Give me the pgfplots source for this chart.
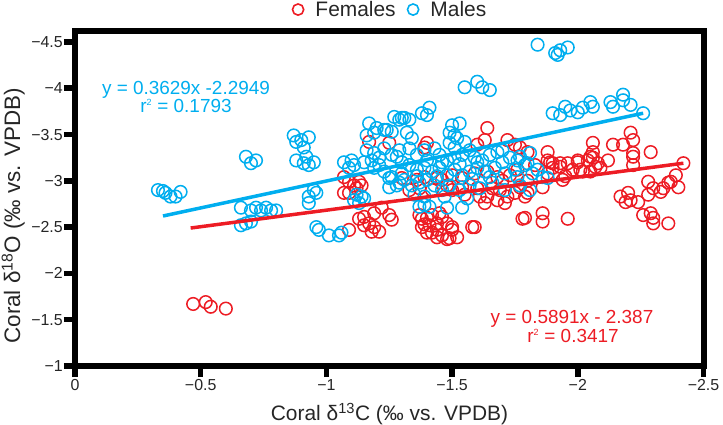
\documentclass[border=0pt]{standalone}
\usepackage{pgfplots}
\pgfplotsset{compat=1.18}
\usepackage{fontspec}
\setmainfont{Liberation Sans}
\definecolor{cred}{RGB}{237,28,36}
\definecolor{cblue}{RGB}{0,174,239}
\begin{document}
\begin{tikzpicture}
\path[use as bounding box] (0,0) rectangle (723bp,425bp);
\begin{axis}[
  at={(75bp,59bp)}, anchor=south west,
  scale only axis, width=629bp, height=335bp,
  x dir=reverse, y dir=reverse,
  xmin=-2.502, xmax=0, ymin=-4.618, ymax=-1,
  xtick={0,-0.5,-1,-1.5,-2,-2.5},
  xticklabels={0,−0.5,−1,−1.5,−2,−2.5},
  ytick={-1,-1.5,-2,-2.5,-3,-3.5,-4,-4.5},
  yticklabels={−1,−1.5,−2,−2.5,−3,−3.5,−4,−4.5},
  xtick pos=left, ytick pos=left,
  tick align=outside,
  major tick length=11bp,
  major tick style={line width=5.5bp, black},
  axis line style={line width=6bp, black},
  ticklabel style={font=\fontsize{16}{16}\selectfont, text=black!85},
  yticklabel style={inner sep=1pt},
  xticklabel style={inner sep=2pt},
  xlabel={Coral δ\textsuperscript{13}C (‰ vs. VPDB)},
  ylabel={Coral δ\textsuperscript{18}O (‰ vs. VPDB)},
  label style={font=\fontsize{21}{21}\selectfont, text=black!85},
  xlabel style={at={(axis description cs:0.5,-0.164)}, anchor=base},
  ylabel style={at={(axis description cs:-0.0874,0.448)}, anchor=base, font=\fontsize{22.5}{22.5}\selectfont},
  clip mode=individual,
  legend columns=2,
  legend style={at={(axis description cs:0.5008,1.064)}, anchor=center, draw=none, fill=none,
    font=\fontsize{21}{21}\selectfont, text=black!85,
    /tikz/every odd column/.append style={column sep=9bp},
    /tikz/every even column/.append style={column sep=9bp}},
]
\addlegendimage{cred, line width=1.6bp, legend image code/.code={\draw (0bp,0bp) circle (5.6bp);}}
\addlegendentry{Females}
\addlegendimage{cblue, line width=1.6bp, legend image code/.code={\draw (0bp,0bp) circle (5.6bp);}}
\addlegendentry{Males}

% Females
\addplot[only marks, mark=o, mark size=6.3bp, cred, line width=1.5bp, forget plot] coordinates {
(-0.47,-1.67) (-0.52,-1.69) (-0.54,-1.64) (-0.60,-1.62)
(-1.09,-2.47) (-1.13,-2.59) (-1.07,-3.04) (-1.09,-2.99) (-1.07,-2.87) (-1.11,-2.95)
(-1.17,-3.42) (-1.25,-3.41)
(-1.13,-2.99) (-1.12,-2.92) (-1.14,-2.95) (-1.09,-2.87)
(-1.15,-2.61) (-1.19,-2.65) (-1.22,-2.71) (-1.25,-2.63) (-1.26,-2.58) (-1.15,-2.52) (-1.17,-2.54) (-1.19,-2.50) (-1.21,-2.45) (-1.18,-2.45)
(-1.64,-3.57) (-1.63,-3.44) (-1.60,-3.39) (-1.72,-3.44) (-1.75,-3.39)
(-1.39,-3.36) (-1.40,-3.41)
(-1.33,-2.90) (-1.37,-2.92) (-1.42,-2.90) (-1.48,-2.95) (-1.50,-2.90) (-1.54,-2.93) (-1.60,-2.92) (-1.64,-2.83) (-1.68,-2.79) (-1.71,-2.76) (-1.63,-2.76) (-1.61,-2.83)
(-1.37,-2.63) (-1.40,-2.60) (-1.42,-2.63) (-1.38,-2.50) (-1.41,-2.52) (-1.44,-2.54) (-1.46,-2.61) (-1.48,-2.54) (-1.50,-2.50) (-1.59,-2.50) (-1.42,-2.44) (-1.44,-2.39) (-1.46,-2.41) (-1.49,-2.38) (-1.52,-2.39) (-1.50,-2.47) (-1.40,-2.44) (-1.45,-2.65)
(-1.38,-2.59) (-1.39,-2.53) (-1.44,-2.47) (-1.48,-2.37) (-1.58,-2.50)
(-1.78,-2.59) (-1.86,-2.56) (-1.96,-2.59)
(-1.77,-3.36) (-1.80,-3.31) (-1.88,-3.31) (-1.88,-3.22) (-1.90,-3.19) (-1.93,-3.19)
(-2.06,-3.41) (-2.06,-3.31) (-2.05,-3.26)
(-2.14,-3.39) (-2.18,-3.39) (-2.21,-3.52) (-2.22,-3.44) (-2.22,-3.30) (-2.22,-3.26) (-2.22,-3.17) (-2.29,-3.31)
(-2.42,-3.19)
(-1.96,-3.19) (-2.00,-3.22) (-2.04,-3.22) (-2.07,-3.15) (-2.08,-3.19) (-1.98,-3.12) (-2.02,-3.10) (-2.05,-3.10) (-2.09,-3.14)
(-1.90,-3.14) (-1.93,-3.15) (-1.88,-3.08)
(-2.28,-2.99) (-2.30,-2.92) (-2.33,-2.88) (-2.34,-2.92) (-2.37,-2.99) (-2.39,-3.06) (-2.40,-2.93) (-2.36,-2.98)
(-2.17,-2.83) (-2.20,-2.87) (-2.21,-2.79) (-2.24,-2.77) (-2.19,-2.77) (-2.28,-2.85)
(-2.26,-2.63) (-2.29,-2.65) (-2.30,-2.54) (-2.36,-2.54) (-2.30,-2.60)
(-1.76,-3.12) (-1.77,-2.93) (-1.80,-2.87) (-1.79,-2.83)
(-1.89,-3.20) (-1.94,-3.01) (-2.00,-3.20) (-2.01,-3.12) (-2.06,-3.25) (-1.86,-2.93)
(-1.79,-2.60) (-1.86,-2.65)
(-1.30,-3.03) (-1.36,-3.01) (-1.39,-3.04) (-1.44,-3.03) (-1.46,-3.01) (-1.50,-3.06) (-1.54,-3.03) (-1.59,-3.08) (-1.64,-3.10) (-1.68,-3.04) (-1.73,-3.06)
(-1.66,-2.92) (-1.69,-2.90) (-1.72,-2.83) (-1.75,-2.87)
(-1.70,-3.00) (-1.80,-3.00) (-1.95,-3.05) (-2.12,-3.22) (-1.55,-2.85) (-1.83,-3.17)
};

% Males
\addplot[only marks, mark=o, mark size=6.3bp, cblue, line width=1.5bp, forget plot] coordinates {
(-0.35,-2.89) (-0.36,-2.87) (-0.38,-2.83) (-0.40,-2.83) (-0.42,-2.88) (-0.33,-2.90)
(-0.68,-3.26) (-0.70,-3.19) (-0.72,-3.22)
(-0.66,-2.71) (-0.70,-2.68) (-0.72,-2.71) (-0.74,-2.68) (-0.76,-2.71) (-0.78,-2.68) (-0.80,-2.68) (-0.68,-2.54) (-0.70,-2.56) (-0.66,-2.52)
(-0.87,-3.49) (-0.90,-3.44) (-0.93,-3.47) (-0.91,-3.36) (-0.88,-3.42)
(-0.88,-3.22) (-0.91,-3.19) (-0.93,-3.17) (-0.95,-3.20) (-0.92,-3.26)
(-0.95,-2.90) (-0.93,-2.83) (-0.93,-2.76) (-0.96,-2.87)
(-0.96,-2.50) (-0.97,-2.47) (-1.01,-2.41) (-1.05,-2.41) (-1.06,-2.44)
(-1.07,-3.20) (-1.10,-3.22) (-1.11,-3.17) (-1.09,-3.14) (-1.15,-3.20) (-1.18,-3.22) (-1.21,-3.25) (-1.21,-3.17) (-1.19,-3.14)
(-1.12,-2.85) (-1.14,-2.83) (-1.15,-2.81) (-1.13,-2.76) (-1.11,-2.79)
(-1.17,-3.62) (-1.19,-3.52) (-1.16,-3.49) (-1.20,-3.57) (-1.24,-3.55) (-1.26,-3.53) (-1.27,-3.69) (-1.29,-3.66) (-1.30,-3.68)
(-1.29,-3.33) (-1.28,-3.26) (-1.30,-3.20) (-1.26,-3.04) (-1.28,-2.95) (-1.29,-2.98) (-1.25,-2.93) (-1.30,-3.08)
(-1.38,-3.73) (-1.41,-3.79) (-1.40,-3.71) (-1.31,-3.68) (-1.33,-3.66)
(-1.50,-3.60) (-1.53,-3.62) (-1.49,-3.52) (-1.51,-3.49) (-1.52,-3.46) (-1.55,-3.42) (-1.49,-3.41) (-1.51,-3.36)
(-1.37,-2.72) (-1.39,-2.74) (-1.41,-2.72) (-1.48,-2.71) (-1.54,-2.71)
(-1.84,-4.47) (-1.91,-4.38) (-1.93,-4.41) (-1.96,-4.44) (-1.92,-4.36)
(-1.55,-4.01) (-1.60,-4.07) (-1.62,-4.01) (-1.65,-3.98)
(-1.90,-3.73) (-1.93,-3.71) (-1.95,-3.80) (-1.97,-3.76) (-2.00,-3.74) (-2.02,-3.79) (-2.05,-3.85) (-2.06,-3.80) (-2.13,-3.85) (-2.14,-3.80) (-2.18,-3.93) (-2.18,-3.87) (-2.21,-3.82) (-2.26,-3.73)
(-1.23,-3.55) (-1.32,-3.52) (-1.34,-3.46)
(-1.16,-3.33) (-1.19,-3.30) (-1.23,-3.35) (-1.26,-3.28) (-1.33,-3.35) (-1.36,-3.28) (-1.39,-3.33) (-1.43,-3.35) (-1.45,-3.28) (-1.48,-3.22) (-1.51,-3.25) (-1.54,-3.28) (-1.57,-3.33) (-1.59,-3.25) (-1.62,-3.22) (-1.65,-3.28) (-1.68,-3.31) (-1.70,-3.33) (-1.73,-3.25) (-1.76,-3.22) (-1.79,-3.17)
(-1.33,-3.17) (-1.36,-3.12) (-1.39,-3.14) (-1.42,-3.10) (-1.45,-3.14) (-1.48,-3.06) (-1.51,-3.12) (-1.54,-3.06) (-1.57,-3.10) (-1.60,-3.14) (-1.63,-3.10) (-1.67,-3.14) (-1.71,-3.08) (-1.75,-3.12)
(-1.31,-3.01) (-1.34,-2.95) (-1.37,-2.98) (-1.40,-3.01) (-1.43,-2.95) (-1.46,-2.90) (-1.49,-2.95) (-1.53,-2.90) (-1.57,-2.95) (-1.61,-2.92) (-1.66,-2.98) (-1.71,-2.90)
(-1.23,-3.10) (-1.25,-3.03) (-1.35,-2.85) (-1.39,-2.83) (-1.47,-2.83) (-1.56,-2.81) (-1.77,-2.95) (-1.81,-2.90)
(-1.77,-3.26) (-1.81,-3.30) (-1.80,-3.19) (-1.76,-3.04) (-1.82,-3.08) (-1.84,-3.12) (-1.86,-3.04) (-1.88,-3.03)
(-1.40,-3.22) (-1.46,-3.20) (-1.53,-3.18) (-1.60,-3.20) (-1.44,-3.05) (-1.58,-3.02) (-1.65,-3.04) (-1.36,-3.05) (-1.70,-3.20)
};

% regression lines
\addplot[cblue, line width=3.5bp, forget plot] coordinates {(-0.35,-2.62) (-2.26,-3.73)};
\addplot[cred, line width=3.5bp, forget plot] coordinates {(-0.46,-2.49) (-2.42,-3.19)};

\node[anchor=base, text=cblue, font=\fontsize{19}{19}\selectfont] at (axis cs:-0.4415,-3.937) {y = 0.3629x -2.2949};
\node[anchor=base, text=cblue, font=\fontsize{19}{19}\selectfont] at (axis cs:-0.4415,-3.743) {r\textsuperscript{\fontsize{9}{9}\selectfont 2} = 0.1793};
\node[anchor=base, text=cred, font=\fontsize{19}{19}\selectfont] at (axis cs:-1.977,-1.454) {y = 0.5891x - 2.387};
\node[anchor=base, text=cred, font=\fontsize{19}{19}\selectfont] at (axis cs:-1.981,-1.259) {r\textsuperscript{\fontsize{9}{9}\selectfont 2} = 0.3417};
\end{axis}
\end{tikzpicture}
\end{document}
